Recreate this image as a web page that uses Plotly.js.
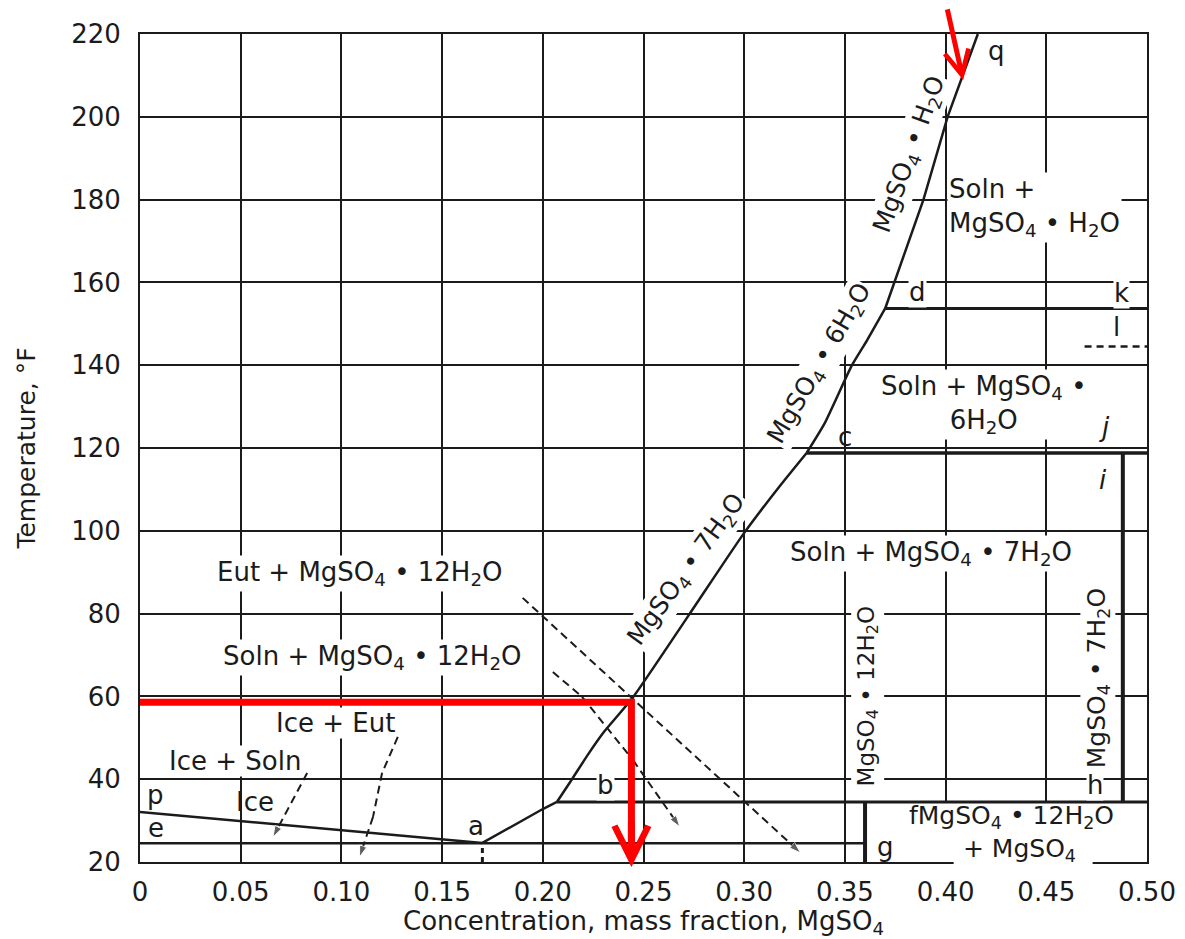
<!DOCTYPE html>
<html>
<head>
<meta charset="utf-8">
<script src="https://cdn.plot.ly/plotly-3.0.1.min.js"></script>
<style>html,body{margin:0;padding:0;background:#fff}#chart{width:1185px;height:939px}</style>
</head>
<body>
<div id="chart"></div>
<script>
// ---------- axis ticks ----------
const xTickVals = [0, 0.05, 0.10, 0.15, 0.20, 0.25, 0.30, 0.35, 0.40, 0.45, 0.50];
const xTickText = ['0', '0.05', '0.10', '0.15', '0.20', '0.25', '0.30', '0.35', '0.40', '0.45', '0.50'];
const yTickVals = [20, 40, 60, 80, 100, 120, 140, 160, 180, 200, 220];

// ---------- phase boundaries (x = mass fraction MgSO4, y = °F) ----------
const iceLineX = [0, 0.17];                 // p - a
const iceLineY = [32.1, 24.6];
const eutecticX = [0, 0.36];                // e - g
const eutecticY = [24.5, 24.5];
const dodecaX = [0.17, 0.185, 0.20, 0.207]; // a - b (12H2O)
const dodecaY = [24.6, 28.8, 32.8, 34.5];
const heptaX = [0.207, 0.2145, 0.2225, 0.2305, 0.2445, 0.273, 0.300, 0.318, 0.331]; // b - c (7H2O)
const heptaY = [34.5, 40, 46, 51.5, 59.6, 80, 99.5, 111, 118.8];
const hexaX = [0.331, 0.340, 0.3535, 0.361, 0.370];  // c - d (6H2O)
const hexaY = [118.8, 126, 140, 146, 153.7];
const monoX = [0.370, 0.389, 0.401, 0.416];          // d - q (H2O)
const monoY = [153.7, 180, 200, 220];

const bLineX = [0.207, 0.5];   const bLineY = [34.5, 34.5];
const fgLineX = [0.36, 0.36];  const fgLineY = [20, 34.5];
const cjLineX = [0.331, 0.5];  const cjLineY = [118.8, 118.8];
const dkLineX = [0.370, 0.5];  const dkLineY = [153.7, 153.7];
const ihLineX = [0.488, 0.488]; const ihLineY = [34.5, 118.8];
const lLineX = [0.469, 0.5];   const lLineY = [144.5, 144.5];
const aDropX = [0.17, 0.17];   const aDropY = [20, 24.5];

// ---------- dashed pointer arrows ----------
const eutArrowX = [0.190, 0.328];               const eutArrowY = [83.8, 22.2];
const solnArrowX = [0.205, 0.2195, 0.2448, 0.268]; const solnArrowY = [65.9, 59.9, 44.6, 28.5];
const iceSolnArrowX = [0.083, 0.066];           const iceSolnArrowY = [41.5, 26];
const iceEutArrowX = [0.128, 0.1202, 0.1157, 0.109]; const iceEutArrowY = [50.2, 41.5, 30.9, 21.2];

// ---------- red reading lines ----------
const readX = [-0.004, 0.244, 0.244];
const readY = [58.6, 58.6, 21];
const readArrowTip = [0.244, 18.8];
const readArrowTail = [0.244, 30];
const topArrowTip = [0.4087, 208.9];
const topArrowTail = [0.4007, 226.3];

// ---------- text labels ----------
const labelTexts = {
  eut12: 'Eut + MgSO<sub>4</sub> • 12H<sub>2</sub>O',
  soln12: 'Soln + MgSO<sub>4</sub> • 12H<sub>2</sub>O',
  iceEut: 'Ice + Eut',
  iceSoln: 'Ice + Soln',
  ice: 'Ice',
  soln7: 'Soln + MgSO<sub>4</sub> • 7H<sub>2</sub>O',
  soln6: 'Soln + MgSO<sub>4</sub> •<br>6H<sub>2</sub>O',
  soln1: 'Soln +<br>MgSO<sub>4</sub> • H<sub>2</sub>O',
  f12: 'fMgSO<sub>4</sub> • 12H<sub>2</sub>O<br>  + MgSO<sub>4</sub>',
  v12: 'MgSO<sub>4</sub> • 12H<sub>2</sub>O',
  v7: 'MgSO<sub>4</sub> • 7H<sub>2</sub>O',
  c7: 'MgSO<sub>4</sub> • 7H<sub>2</sub>O',
  c6: 'MgSO<sub>4</sub> • 6H<sub>2</sub>O',
  c1: 'MgSO<sub>4</sub> • H<sub>2</sub>O'
};
const pointLetters = ['p', 'e', 'a', 'b', 'c', 'd', 'g', 'h', 'i', 'j', 'k', 'l', 'q'];

const FONT = 'DejaVu Sans, Verdana, sans-serif';
const INK = '#1b1b1b';
const RED = '#ff0000';

function seg(x, y, width, dash, smooth) {
  const line = {color: INK, width: width, dash: dash || 'solid'};
  if (smooth) { line.shape = 'spline'; line.smoothing = smooth; }
  return {type: 'scatter', mode: 'lines', x: x, y: y, line: line,
    hoverinfo: 'skip', showlegend: false};
}
function dashedArrow(x, y) {
  return {type: 'scatter', mode: 'lines+markers', x: x, y: y,
    line: {color: INK, width: 2, dash: '8px,5px'},
    marker: {symbol: 'arrow', color: INK, angleref: 'previous',
      size: x.map(function (_, i) { return i === x.length - 1 ? 12 : 0; })},
    hoverinfo: 'skip', showlegend: false};
}

const traces = [
  seg(iceLineX, iceLineY, 2.5),
  seg(eutecticX, eutecticY, 2.5),
  seg(dodecaX, dodecaY, 2.5),
  seg(heptaX, heptaY, 2.5, null, 0.6),
  seg(hexaX, hexaY, 2.5, null, 0.5),
  seg(monoX, monoY, 2.5),
  seg(bLineX, bLineY, 3),
  seg(fgLineX, fgLineY, 4),
  seg(cjLineX, cjLineY, 3.5),
  seg(dkLineX, dkLineY, 3),
  seg(ihLineX, ihLineY, 4),
  seg(lLineX, lLineY, 2.5, '7px,5px'),
  seg(aDropX, aDropY, 3, '5px,4px'),
  dashedArrow(eutArrowX, eutArrowY),
  dashedArrow(solnArrowX, solnArrowY),
  dashedArrow(iceSolnArrowX, iceSolnArrowY),
  dashedArrow(iceEutArrowX, iceEutArrowY),
  {type: 'scatter', mode: 'lines', x: readX, y: readY, cliponaxis: false,
   line: {color: RED, width: 7}, hoverinfo: 'skip', showlegend: false}
];

function lab(text, x, y, opts) {
  opts = opts || {};
  return {text: text, x: x, y: y, xref: 'x', yref: 'y', showarrow: false,
    xanchor: opts.xanchor || 'center', yanchor: 'middle', align: opts.align || 'center',
    textangle: opts.angle || 0,
    font: {family: FONT, size: opts.size || 26, color: INK, style: opts.style || 'normal'},
    bgcolor: opts.nobg ? 'rgba(0,0,0,0)' : 'white', borderpad: opts.pad === undefined ? 1 : opts.pad};
}

const L = labelTexts, P = pointLetters;
const annotations = [
  lab(L.eut12, 0.109, 89.8),
  lab(L.soln12, 0.115, 69.5),
  lab(L.iceEut, 0.097, 53.6, {pad: 0}),
  lab(L.iceSoln, 0.047, 44.3, {pad: 0}),
  lab(L.ice, 0.057, 34.6, {nobg: true}),
  lab(L.soln7, 0.3928, 94.6),
  lab(L.soln6, 0.419, 130.6),
  lab(L.soln1, 0.4007, 178.2, {xanchor: 'left', align: 'left'}),
  lab(L.f12, 0.4325, 26.9, {nobg: true, size: 25}),
  lab(L.v12, 0.3615, 60, {angle: -90, size: 23}),
  lab(L.v7, 0.4757, 64.4, {angle: -90, size: 25}),
  lab(L.c7, 0.2716, 90.5, {angle: -54, size: 25}),
  lab(L.c6, 0.3376, 140.3, {angle: -60, size: 25}),
  lab(L.c1, 0.3823, 190.8, {angle: -70, size: 25}),
  lab(P[0], 0.0075, 36.2, {nobg: true}),
  lab(P[1], 0.008, 28.2, {nobg: true}),
  lab(P[2], 0.167, 28.6, {nobg: true}),
  lab(P[3], 0.231, 38.6, {pad: 0}),
  lab(P[4], 0.350, 122.7, {nobg: true}),
  lab(P[5], 0.386, 157.7, {pad: 0}),
  lab(P[6], 0.370, 23.6, {nobg: true}),
  lab(P[7], 0.474, 38.6, {pad: 0}),
  lab(P[8], 0.478, 112.3, {nobg: true, style: 'italic'}),
  lab(P[9], 0.479, 125, {nobg: true, style: 'italic'}),
  lab(P[10], 0.4875, 157.4, {pad: 0}),
  lab(P[11], 0.485, 149.2, {nobg: true}),
  lab(P[12], 0.4255, 216, {nobg: true}),
  // red arrow heads
  {x: readArrowTip[0], y: readArrowTip[1], ax: readArrowTail[0], ay: readArrowTail[1],
   xref: 'x', yref: 'y', axref: 'x', ayref: 'y', text: '', showarrow: true,
   arrowhead: 5, arrowsize: 0.95, arrowwidth: 7, arrowcolor: RED, standoff: 0},
  {x: topArrowTip[0], y: topArrowTip[1], ax: topArrowTail[0], ay: topArrowTail[1],
   xref: 'x', yref: 'y', axref: 'x', ayref: 'y', text: '', showarrow: true,
   arrowhead: 5, arrowsize: 0.95, arrowwidth: 5, arrowcolor: RED, standoff: 0}
];

// white field of the "f ... g" region (no grid drawn there), built from the boundary arrays
const shapes = [
  {type: 'rect', xref: 'x', yref: 'y', layer: 'between',
   x0: fgLineX[0], x1: bLineX[1], y0: fgLineY[0], y1: bLineY[0],
   fillcolor: 'white', line: {width: 0}},
  // white gap in the axis line under "+ MgSO4"
  {type: 'rect', xref: 'x', yref: 'paper', layer: 'above',
   x0: 0.404, x1: 0.473, y0: -0.004, y1: 0.004,
   fillcolor: 'white', line: {width: 0}}
];

const layout = {
  width: 1185, height: 939,
  margin: {l: 140, r: 38, t: 34, b: 77},
  paper_bgcolor: 'white', plot_bgcolor: 'white',
  showlegend: false,
  font: {family: FONT, color: INK},
  xaxis: {
    range: [0, 0.5], tickmode: 'array', tickvals: xTickVals, ticktext: xTickText,
    showgrid: true, gridcolor: INK, gridwidth: 2, zeroline: false,
    showline: true, mirror: true, linecolor: INK, linewidth: 2,
    ticks: '', ticklabelstandoff: 6,
    tickfont: {family: FONT, size: 26, color: INK},
    title: {text: 'Concentration, mass fraction, MgSO<sub>4</sub>', font: {family: FONT, size: 26, color: INK}, standoff: 8},
    fixedrange: true
  },
  yaxis: {
    range: [20, 220], tickmode: 'array', tickvals: yTickVals,
    showgrid: true, gridcolor: INK, gridwidth: 2, zeroline: false,
    showline: true, mirror: true, linecolor: INK, linewidth: 2,
    ticks: '', ticklabelstandoff: 12,
    tickfont: {family: FONT, size: 26, color: INK},
    title: {text: 'Temperature, °F', font: {family: FONT, size: 25, color: INK}, standoff: 28},
    fixedrange: true
  },
  shapes: shapes,
  annotations: annotations
};

Plotly.newPlot('chart', traces, layout, {displayModeBar: false, staticPlot: true});
</script>
</body>
</html>
